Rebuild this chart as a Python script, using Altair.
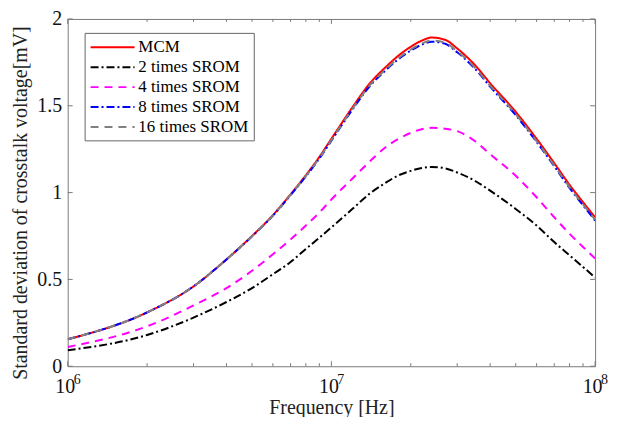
import altair as alt
import pandas as pd

# ---- data ----
freq = [1e6, 2e6, 3e6, 4e6, 5e6, 6e6, 7e6, 8e6, 9e6, 1e7,
        1.2e7, 1.4e7, 1.6e7, 1.8e7, 2e7, 2.2e7, 2.4e7, 2.7e7, 3e7, 3.5e7,
        4e7, 5e7, 6e7, 7e7, 8e7, 9e7, 1e8]

mcm = [0.155, 0.31, 0.46, 0.615, 0.75, 0.87, 0.99, 1.10, 1.205, 1.31,
       1.49, 1.63, 1.72, 1.79, 1.84, 1.875, 1.893, 1.88, 1.83, 1.735,
       1.63, 1.465, 1.31, 1.17, 1.045, 0.945, 0.858]

srom2 = [0.092, 0.18, 0.28, 0.37, 0.45, 0.53, 0.60, 0.675, 0.74, 0.80,
         0.905, 0.995, 1.055, 1.10, 1.125, 1.142, 1.148, 1.14, 1.116, 1.068,
         1.011, 0.906, 0.81, 0.715, 0.639, 0.572, 0.511]

srom4 = [0.111, 0.23, 0.35, 0.45, 0.55, 0.645, 0.73, 0.81, 0.885, 0.96,
         1.08, 1.18, 1.26, 1.31, 1.344, 1.365, 1.373, 1.368, 1.354, 1.297,
         1.221, 1.097, 0.973, 0.858, 0.763, 0.687, 0.62]

srom8 = [0.155, 0.31, 0.46, 0.615, 0.748, 0.867, 0.985, 1.093, 1.196, 1.299,
         1.477, 1.614, 1.702, 1.77, 1.818, 1.852, 1.869, 1.857, 1.808, 1.714,
         1.61, 1.446, 1.292, 1.152, 1.027, 0.927, 0.839]

srom16 = [0.155, 0.31, 0.46, 0.615, 0.749, 0.868, 0.987, 1.095, 1.199, 1.303,
          1.481, 1.619, 1.707, 1.775, 1.824, 1.858, 1.875, 1.863, 1.814, 1.72,
          1.616, 1.452, 1.297, 1.157, 1.032, 0.932, 0.844]

series_names = ["MCM", "2 times SROM", "4 times SROM", "8 times SROM", "16 times SROM"]
series_colors = ["#ff0000", "#000000", "#ff00ff", "#0000ff", "#808080"]
series_dashes = [[1, 0], [8, 3, 2, 3], [8, 6], [8, 3, 2, 3], [8, 6]]

x_major = [1e6, 1e7, 1e8]
x_exponents = ["6", "7", "8"]
x_minor = [2e6, 3e6, 4e6, 5e6, 6e6, 7e6, 8e6, 9e6,
           2e7, 3e7, 4e7, 5e7, 6e7, 7e7, 8e7, 9e7]
y_ticks = [0, 0.5, 1, 1.5, 2]

rows = []
for k, (name, vals) in enumerate(zip(series_names, [mcm, srom2, srom4, srom8, srom16])):
    for f, v in zip(freq, vals):
        rows.append({"f": f, "v": v, "series": name, "k": k})
df = pd.DataFrame(rows)

W, H = 530, 349
FONT = "Liberation Serif"
AX = "#7a7a7a"

xscale = alt.Scale(type="log", domain=[1e6, 1e8], nice=False)
yscale = alt.Scale(domain=[0, 2], nice=False)

x_axis = alt.Axis(values=x_major, title="Frequency [Hz]",
                  labelExpr="'10'", labelOffset=-3, labelFlush=False,
                  labelPadding=10, titlePadding=2)
y_axis = alt.Axis(values=y_ticks, format="~g",
                  title="Standard deviation of crosstalk voltage[mV]",
                  labelPadding=6, titlePadding=6, titleY=H / 2 + 10)

leg = alt.Legend(
    title=None, orient="none", legendX=17, legendY=14,
    fillColor="white", strokeColor="#666666", padding=5,
    symbolType="M-1,0H4.2", symbolSize=289, symbolStrokeWidth=2,
    labelFont=FONT, labelFontSize=17, labelColor="black",
    labelOffset=30, rowPadding=2,
)

lines = alt.Chart(df).mark_line(strokeWidth=2, clip=True, interpolate="monotone").encode(
    x=alt.X("f:Q", scale=xscale, axis=x_axis),
    y=alt.Y("v:Q", scale=yscale, axis=y_axis),
    color=alt.Color("series:N", scale=alt.Scale(domain=series_names, range=series_colors), legend=leg),
    strokeDash=alt.StrokeDash("series:N", scale=alt.Scale(domain=series_names, range=series_dashes), legend=leg),
    order=alt.Order("k:Q"),
    detail="series:N",
)

df_xmaj = pd.DataFrame({"f": x_major, "e": x_exponents})
df_xmin = pd.DataFrame({"f": x_minor})
df_y = pd.DataFrame({"v": y_ticks})

def xticks(data, length):
    bot = alt.Chart(data).mark_rule(color=AX, strokeWidth=1).encode(
        x=alt.X("f:Q", scale=xscale, axis=x_axis), y=alt.value(H), y2=alt.value(H - length))
    top = alt.Chart(data).mark_rule(color=AX, strokeWidth=1).encode(
        x=alt.X("f:Q", scale=xscale, axis=x_axis), y=alt.value(0), y2=alt.value(length))
    return [bot, top]

yl = alt.Chart(df_y).mark_rule(color=AX, strokeWidth=1).encode(
    y=alt.Y("v:Q", scale=yscale, axis=y_axis), x=alt.value(0), x2=alt.value(5))
yr = alt.Chart(df_y).mark_rule(color=AX, strokeWidth=1).encode(
    y=alt.Y("v:Q", scale=yscale, axis=y_axis), x=alt.value(W - 5), x2=alt.value(W))

exps = alt.Chart(df_xmaj).mark_text(
    font=FONT, fontSize=14, align="left", baseline="top", dx=6, color="#111111"
).encode(
    x=alt.X("f:Q", scale=xscale, axis=x_axis), y=alt.value(H + 6.5), text="e:N")

chart = alt.layer(
    lines, *xticks(df_xmaj, 5), *xticks(df_xmin, 3), yl, yr, exps
).properties(
    width=W, height=H,
    padding={"left": 60, "top": 10, "right": 18, "bottom": 50},
    autosize=alt.AutoSizeParams(type="none"),
).configure_view(
    stroke=AX, strokeWidth=1
).configure_axis(
    domain=False, ticks=False, grid=False,
    labelFont=FONT, labelFontSize=20, labelColor="#111111",
    titleFont=FONT, titleFontSize=20, titleFontWeight="normal", titleColor="#222222",
)

chart.save("out.html", embed_options={"renderer": "svg", "actions": False})
